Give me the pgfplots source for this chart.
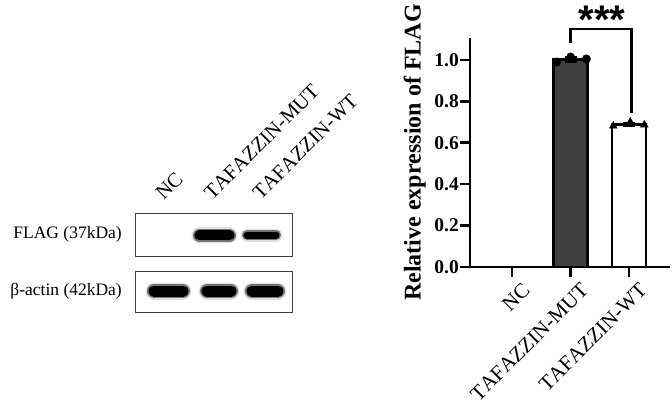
\documentclass[border=0pt]{standalone}
\usepackage{fontspec}
\setmainfont{Liberation Serif}[Kerning=Off]
\setsansfont{Liberation Sans}
\usepackage{pgfplots}
\pgfplotsset{compat=1.18}

\definecolor{barmut}{RGB}{64,64,64}

\begin{document}
\begin{tikzpicture}
\useasboundingbox (0,0) rectangle (672pt,406pt);

% ---- western blot: FLAG row
\begin{axis}[
  at={(135pt,150pt)}, anchor=south west,
  scale only axis, width=157pt, height=43pt,
  xmin=0.32, xmax=3.557, ymin=0, ymax=1,
  axis line style={line width=0.9pt, black!75},
  major tick length=0pt,
  xtick={1,2,3}, xticklabels={NC,TAFAZZIN-MUT,TAFAZZIN-WT},
  xticklabel pos=upper,
  xticklabel style={font=\fontsize{20.5}{22}\selectfont, xshift=-4pt, yshift=12pt, rotate=45, anchor=south west, inner sep=0pt},
  ytick={0.5}, yticklabels={FLAG (37kDa)},
  yticklabel style={font=\fontsize{17.5}{20}\selectfont, anchor=east, inner sep=0pt, xshift=-13pt},
]
\addplot[line width=16pt, line cap=round, black!12] coordinates {(1.649,0.477)(2.268,0.477)};
\addplot[line width=13pt, line cap=round, black!55] coordinates {(1.649,0.477)(2.268,0.477)};
\addplot[line width=10pt, line cap=round, black] coordinates {(1.649,0.477)(2.268,0.477)};
\addplot[line width=13pt, line cap=round, black!12] coordinates {(2.629,0.488)(3.227,0.488)};
\addplot[line width=10pt, line cap=round, black!55] coordinates {(2.629,0.488)(3.227,0.488)};
\addplot[line width=7pt, line cap=round, black] coordinates {(2.629,0.488)(3.227,0.488)};
\end{axis}

% ---- western blot: beta-actin row
\begin{axis}[
  at={(135pt,94pt)}, anchor=south west,
  scale only axis, width=157pt, height=41pt,
  xmin=0.32, xmax=3.557, ymin=0, ymax=1,
  axis line style={line width=0.9pt, black!75},
  major tick length=0pt,
  xtick=\empty,
  ytick={0.5}, yticklabels={β-actin (42kDa)},
  yticklabel style={font=\fontsize{17.5}{20}\selectfont, anchor=east, inner sep=0pt, xshift=-13pt},
]
\addplot[line width=17pt, line cap=round, black!12] coordinates {(0.711,0.512)(1.309,0.512)};
\addplot[line width=14pt, line cap=round, black!55] coordinates {(0.711,0.512)(1.309,0.512)};
\addplot[line width=11pt, line cap=round, black] coordinates {(0.711,0.512)(1.309,0.512)};
\addplot[line width=17pt, line cap=round, black!12] coordinates {(1.804,0.512)(2.299,0.512)};
\addplot[line width=14pt, line cap=round, black!55] coordinates {(1.804,0.512)(2.299,0.512)};
\addplot[line width=11pt, line cap=round, black] coordinates {(1.804,0.512)(2.299,0.512)};
\addplot[line width=17pt, line cap=round, black!12] coordinates {(2.732,0.512)(3.268,0.512)};
\addplot[line width=14pt, line cap=round, black!55] coordinates {(2.732,0.512)(3.268,0.512)};
\addplot[line width=11pt, line cap=round, black] coordinates {(2.732,0.512)(3.268,0.512)};
\end{axis}

% ---- bar chart
\begin{axis}[
  at={(470pt,139pt)}, anchor=south west,
  scale only axis, width=200pt, height=229pt,
  xmin=-0.72, xmax=2.70, ymin=0, ymax=1.106,
  axis lines=left, axis line style={-, line width=2.6pt},
  clip=false,
  tick align=outside, major tick length=10pt,
  tick style={line width=2.6pt, black},
  xtick={0,1,2}, xticklabels={NC,TAFAZZIN-MUT,TAFAZZIN-WT},
  xticklabel style={font=\fontsize{21}{23}\selectfont, xshift=9pt, yshift=-3pt, rotate=45, anchor=north east, inner sep=1pt},
  ytick={0,0.2,0.4,0.6,0.8,1.0},
  /pgf/number format/assume math mode=true,
  yticklabel style={/pgf/number format/fixed, /pgf/number format/fixed zerofill, /pgf/number format/precision=1,
    font=\bfseries\fontsize{19.5}{22}\selectfont, inner sep=1pt},
  ylabel={Relative expression of FLAG},
  ylabel style={font=\bfseries\fontsize{24}{28}\selectfont, at={(axis description cs:-0.21,0.5)}, anchor=south, inner sep=2pt},
]
\addplot[ybar, bar shift=0pt, bar width=34pt, fill=barmut, draw=black, line width=2.6pt,
  error bars/.cd, y dir=both, y explicit,
  error bar style={line width=1.5pt, black},
  error mark options={rotate=90, mark size=6pt, line width=1.5pt, black}]
  coordinates {(1,1.003) +- (0,0.012)};
\addplot[ybar, bar shift=0pt, bar width=34pt, fill=white, draw=black, line width=2.6pt,
  error bars/.cd, y dir=both, y explicit,
  error bar style={line width=1.5pt, black},
  error mark options={rotate=90, mark size=6pt, line width=1.5pt, black}]
  coordinates {(2,0.689) +- (0,0.010)};
\addplot[only marks, mark=*, mark size=4.2pt, black] coordinates {(0.76,0.990)(1.00,1.014)(1.27,1.005)};
\addplot[only marks, mark=triangle*, mark size=4.5pt, black] coordinates {(1.73,0.681)(2.02,0.700)(2.26,0.686)};
% significance bracket
\addplot[line width=2.6pt, black] coordinates {(1,1.082)(1,1.15)(2.04,1.15)(2.04,0.744)};
\node[anchor=base, inner sep=0pt] at (axis cs:1.54,1.126) {\sffamily\bfseries\fontsize{40}{40}\selectfont ***};
\end{axis}
\end{tikzpicture}
\end{document}
